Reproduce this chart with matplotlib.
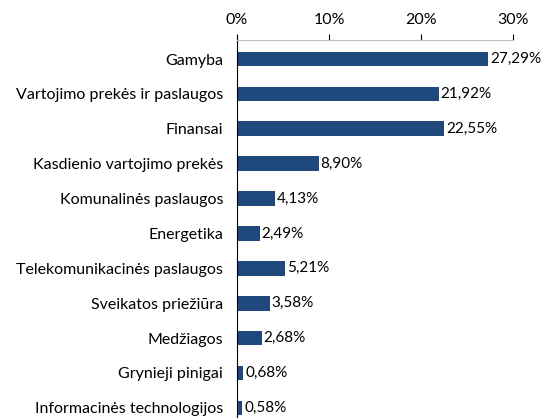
import matplotlib.pyplot as plt
from matplotlib.ticker import FuncFormatter

categories = ["Gamyba", "Vartojimo prekės ir paslaugos", "Finansai",
              "Kasdienio vartojimo prekės", "Komunalinės paslaugos", "Energetika",
              "Telekomunikacinės paslaugos", "Sveikatos priežiūra", "Medžiagos",
              "Grynieji pinigai", "Informacinės technologijos"]
values = [27.29, 21.92, 22.55, 8.90, 4.13, 2.49, 5.21, 3.58, 2.68, 0.68, 0.58]
ticks = [0, 10, 20, 30]

plt.rcParams['font.family'] = ['Lato', 'DejaVu Sans']
fs = 11.5

fig = plt.figure(figsize=(5.43, 4.18), dpi=100)
ax = fig.add_axes([237 / 543, 0.0, 276 / 543, 1 - 40 / 418])

pos = list(range(len(categories)))
ax.barh(pos, values, height=0.42, color="#1f497d")
for p, v in zip(pos, values):
    ax.text(v + 0.2, p, f"{v:.2f}%".replace(".", ","), va="center", ha="left", fontsize=11)

ax.set_ylim(len(categories) - 1 + 0.29, -0.545)
ax.set_xlim(0, 30)
ax.set_yticks(pos)
ax.set_yticklabels(categories, fontsize=fs)
ax.tick_params(axis="y", length=0, pad=10)
ax.xaxis.tick_top()
ax.set_xticks(ticks)
ax.xaxis.set_major_formatter(FuncFormatter(lambda x, _: f"{x:.0f}%"))
ax.tick_params(axis="x", colors="#000000", labelsize=fs, length=4, width=0.8, pad=5)
for t in ax.xaxis.get_ticklines():
    t.set_color("#bfbfbf")

for s in ["right", "bottom"]:
    ax.spines[s].set_visible(False)
ax.spines["top"].set_color("#bfbfbf")
ax.spines["left"].set_color("black")

fig.savefig("out.png", dpi=100)
